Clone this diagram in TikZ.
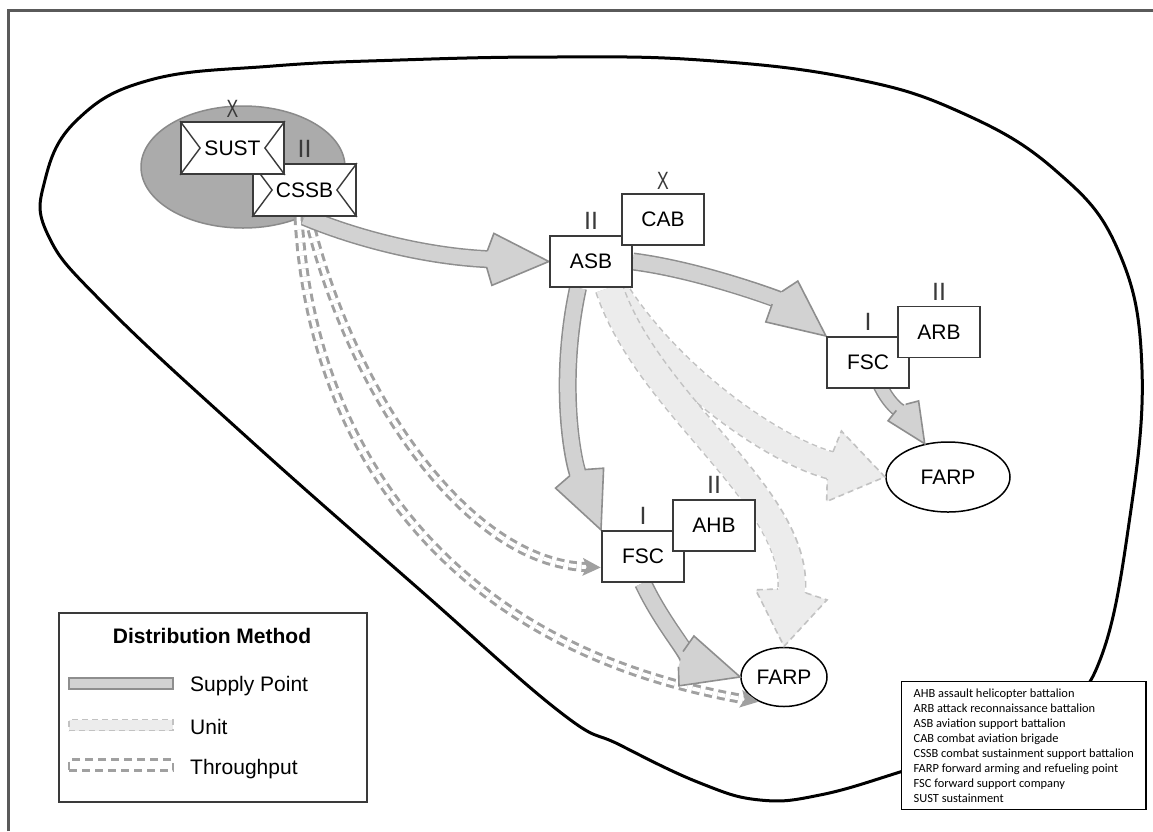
\documentclass[tikz,border=0pt]{standalone}
\usepackage{fontspec}
\setmainfont{Liberation Sans}
\newfontfamily\calibfont{Carlito}
\usetikzlibrary{shapes.geometric,calc,decorations.markings}
\definecolor{boxc}{HTML}{3A3A3A}
\definecolor{spfill}{HTML}{D2D2D2}
\definecolor{spline}{HTML}{8E8E8E}
\definecolor{unfill}{HTML}{ECECEC}
\definecolor{unline}{HTML}{C2C2C2}
\definecolor{thrc}{HTML}{A0A0A0}
\definecolor{ovalfill}{HTML}{ABABAB}
\definecolor{ovalline}{HTML}{8A8A8A}
\definecolor{framec}{HTML}{5A5A5A}
\newcommand\labfont{\fontsize{21}{25}\selectfont}
\newcommand\echfont{\fontsize{25}{25}\selectfont}
\newcommand\spheadshape{%
  \fill[spfill] (0pt,0pt) -- (-56pt,26pt) -- (-62pt,8pt) -- (-62pt,-8pt) -- (-56pt,-26pt) -- cycle;
  \draw[spline, line width=1.6pt, line join=miter] (-62pt,8pt) -- (-56pt,26pt) -- (0pt,0pt) -- (-56pt,-26pt) -- (-62pt,-8pt);}
\newcommand\unheadshape{%
  \fill[unfill] (0pt,0pt) -- (-52pt,36pt) -- (-56pt,14pt) -- (-56pt,-14pt) -- (-52pt,-36pt) -- cycle;
  \draw[unline, line width=1.6pt, dash pattern=on 6pt off 4pt] (-56pt,14pt) -- (-52pt,36pt) -- (0pt,0pt) -- (-52pt,-36pt) -- (-56pt,-14pt);}
\newcommand\thheadshape{%
  \fill[thrc] (0pt,0pt) -- (-18pt,9pt) -- (-14pt,0pt) -- (-18pt,-9pt) -- cycle;}
\tikzset{
  spout/.style={draw=spline, line width=18pt, shorten >=58pt},
  spin/.style={draw=spfill, line width=15pt, shorten >=57pt},
  unout/.style={draw=unline, line width=29pt, dash pattern=on 6pt off 4pt, shorten >=50pt},
  unin/.style={draw=unfill, line width=26pt, shorten >=49pt},
  thline/.style={draw=thrc, line width=3pt, double=white, double distance=4pt, dash pattern=on 8pt off 5pt, shorten >=14pt},
  sbox/.style={draw=boxc, line width=1.8pt, fill=white, minimum width=103pt, minimum height=52pt, inner sep=0pt, font=\labfont},
  ubox/.style={draw=boxc, line width=1.8pt, fill=white, minimum width=82pt, minimum height=51pt, inner sep=0pt, font=\labfont},
  ech/.style={inner sep=0pt, font=\echfont, text=boxc, anchor=south},
  farpst/.style={ellipse, draw=black, line width=1.5pt, fill=white, inner sep=0pt, font=\labfont},
  symline/.style={draw=boxc, line width=1.4pt},
  headmark/.style={decorate, decoration={markings, mark=at position 0.999 with {#1}}},
}
\newcommand\sparrow[1]{%
  \draw[spout] #1;
  \draw[spin] #1;
  \path[headmark={\spheadshape}] #1;}
\newcommand\unarrow[1]{%
  \draw[unout] #1;
  \draw[unin] #1;
  \path[headmark={\unheadshape}] #1;}
\newcommand\tharrow[1]{%
  \draw[thline] #1;
  \path[headmark={\thheadshape}] #1;}
\begin{document}
\begin{tikzpicture}[x=1pt, y=-1pt]
\useasboundingbox (0,0) rectangle (1153,831);
\fill[white] (0,0) rectangle (1153,831);
% frame
\draw[framec, line width=3pt] (8,831) -- (8,10) -- (1153,10);
% region
\draw[black, line width=3pt] plot[smooth cycle, tension=0.7] coordinates {
 (45,180) (77,120) (150,80) (273,66) (400,60) (550,57) (700,60) (850,78)
 (960,112) (1055,170) (1118,250) (1142,370) (1128,530) (1100,660) (1060,705)
 (980,745) (900,772) (820,795) (760,800) (700,783) (620,745) (560,712)
 (420,590) (250,440) (105,305) (48,235)};
% sustainment oval
\node[ellipse, fill=ovalfill, draw=ovalline, line width=1.5pt, minimum width=204pt, minimum height=122pt] (sustoval) at (243,167) {};
% anchor placeholders for the units
\path (304.5,190) node[sbox, draw=none, fill=none] (cssb) {}
      (591,261.5) node[ubox, draw=none, fill=none] (asb) {}
      (868,362.5) node[ubox, draw=none, fill=none] (fsca) {}
      (643,556.5) node[ubox, draw=none, fill=none] (fscb) {};
\node[farpst, minimum width=124pt, minimum height=70pt] (farpa) at (948,477) {FARP};
\node[farpst, minimum width=86pt, minimum height=59pt] (farpb) at (784,677) {FARP};
% throughput
\tharrow{($(cssb.south)+(4,0)$) .. controls (350,390) and (465,563) .. ($(fscb.west)+(0,11)$)}
\tharrow{($(cssb.south)+(-6,0)$) .. controls (310,430) and (430,645) .. (farpb.225)}
% unit
\unarrow{($(asb.south)+(22,0)$) .. controls (670,380) and (780,455) .. (farpa.west)}
\unarrow{($(asb.south)+(18,0)$) .. controls (650,410) and (805,500) .. (farpb.north)}
% supply point
\sparrow{(cssb.south) .. controls (360,240) and (430,257) .. (asb.west)}
\sparrow{($(asb.south)+(-13,0)$) .. controls (558,380) and (572,460) .. (fscb.north west)}
\sparrow{(asb.east) .. controls (700,270) and (780,300) .. (fsca.north west)}
\draw[draw=spline, line width=15pt, shorten >=42pt] ($(fsca.south)+(6,-20)$) .. controls (884,405) and (908,418) .. (farpa.125);
\draw[draw=spfill, line width=12pt, shorten >=41pt] ($(fsca.south)+(6,-20)$) .. controls (884,405) and (908,418) .. (farpa.125);
\path[headmark={\begin{scope}[scale=0.7]\spheadshape\end{scope}}] ($(fsca.south)+(6,-20)$) .. controls (884,405) and (908,418) .. (farpa.125);
\sparrow{(fscb.south) .. controls (665,630) and (700,665) .. (farpb.west)}
% CSSB and SUST
\node[sbox] (cssbbox) at (304.5,190) {CSSB};
\draw[symline] (cssbbox.north west) -- ($(cssbbox.west)+(20,0)$) -- (cssbbox.south west);
\draw[symline] (cssbbox.north east) -- ($(cssbbox.east)+(-20,0)$) -- (cssbbox.south east);
\node[sbox] (sust) at (232.5,148) {SUST};
\draw[symline] (sust.north west) -- ($(sust.west)+(20,0)$) -- (sust.south west);
\draw[symline] (sust.north east) -- ($(sust.east)+(-20,0)$) -- (sust.south east);
\node[ech] (sustx) at ($(sust.north)+(0,-3)$) {\scalebox{0.7}[1]{X}};
\node[ech] (cssbii) at ($(cssbbox.north)+(0,-5)$) {II};
% ASB and CAB
\node[ubox] (asbbox) at (591,261.5) {ASB};
\node[ubox] (cab) at (663,219.5) {CAB};
\node[ech] (asbii) at ($(asbbox.north)+(0,-5)$) {II};
\node[ech] (cabx) at ($(cab.north)+(0,-3)$) {\scalebox{0.7}[1]{X}};
% FSC and ARB
\node[ubox] (fscabox) at (868,362.5) {FSC};
\node[ubox] (arb) at (939,332) {ARB};
\node[ech] (fscai) at ($(fscabox.north)+(0,-5)$) {I};
\node[ech] (arbii) at ($(arb.north)+(0,-5)$) {II};
% FSC and AHB
\node[ubox] (fscbbox) at (643,556.5) {FSC};
\node[ubox] (ahb) at (714,525.5) {AHB};
\node[ech] (fscbi) at ($(fscbbox.north)+(0,-5)$) {I};
\node[ech] (ahbii) at ($(ahb.north)+(0,-5)$) {II};
% legend
\node[draw=boxc, line width=1.8pt, minimum width=308pt, minimum height=189pt, anchor=north west, inner sep=0pt] (legend) at (58,612) {};
\node[font=\bfseries\labfont, anchor=base] (legtitle) at (212,643) {Distribution Method};
\node[draw=spline, fill=spfill, line width=1.5pt, minimum width=104pt, minimum height=11pt, inner sep=0pt] (swsp) at (121,683.5) {};
\node[font=\labfont, anchor=base west, inner sep=0pt] (lsp) at (190,691.5) {Supply Point};
\node[draw=unline, fill=unfill, line width=1.5pt, dash pattern=on 6pt off 4pt, minimum width=104pt, minimum height=11pt, inner sep=0pt] (swun) at (121,725) {};
\node[font=\labfont, anchor=base west, inner sep=0pt] (lun) at (190,734) {Unit};
\node[draw=thrc, line width=2.5pt, dash pattern=on 8pt off 5pt, minimum width=104pt, minimum height=11pt, inner sep=0pt] (swth) at (121,765) {};
\node[font=\labfont, anchor=base west, inner sep=0pt] (lth) at (190,774) {Throughput};
% abbreviations
\node[draw=black, line width=1.3pt, fill=white, anchor=north west, align=left, inner xsep=12pt, inner ysep=7pt, font=\calibfont\fontsize{12.4}{15}\selectfont] (abbr) at (901,681) {AHB assault helicopter battalion\\ARB attack reconnaissance battalion\\ASB aviation support battalion\\CAB combat aviation brigade\\CSSB combat sustainment support battalion\\FARP forward arming and refueling point\\FSC forward support company\\SUST sustainment};
\end{tikzpicture}
\end{document}
